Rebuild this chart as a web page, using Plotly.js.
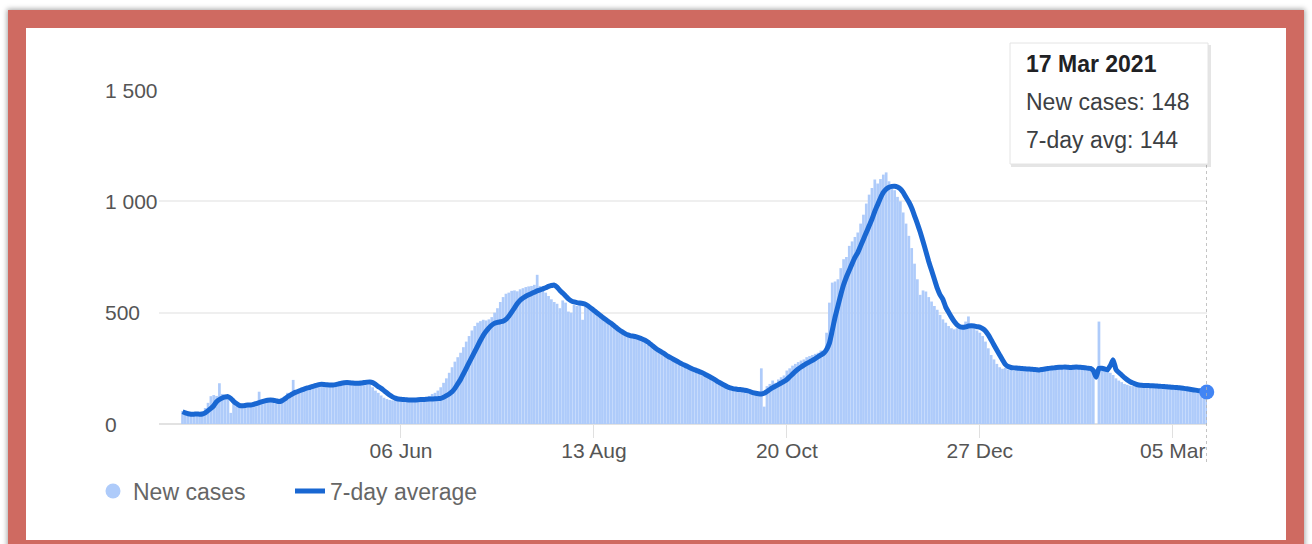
<!DOCTYPE html>
<html><head><meta charset="utf-8">
<script src="https://cdn.plot.ly/plotly-3.0.1.min.js"></script>
<style>
html,body{margin:0;padding:0;width:1312px;height:544px;overflow:hidden;background:#fff;}
#frame{position:absolute;left:8px;top:10px;width:1296px;height:548px;box-sizing:border-box;border:18px solid #cf6a61;background:#fff;box-shadow:0 0 5px 1px rgba(0,0,0,0.35);}
#chart{position:absolute;left:0;top:0;width:1312px;height:544px;}
</style></head><body>
<div id="frame"></div>
<div id="chart"></div>
<script>
const startDate = '2020-03-21';

const newCases = [
58,42,38,45,48,40,46,55,72,95,
125,130,126,183,135,110,118,50,92,80,
78,84,88,80,92,95,100,145,104,96,
110,112,100,98,108,118,125,140,135,198,
150,155,160,162,168,172,170,180,182,176,
175,178,172,180,182,186,185,188,184,186,
182,185,188,186,190,192,178,165,150,140,
128,118,112,108,106,110,108,112,106,110,
104,110,112,108,114,116,120,126,135,140,
150,165,185,205,230,255,280,300,320,345,
370,395,420,440,455,462,468,465,470,480,
500,520,548,570,585,590,598,600,596,605,
610,615,618,620,625,670,620,610,590,575,
560,548,540,520,555,545,505,500,535,530,
540,468,535,525,515,505,496,486,476,466,
456,447,437,428,418,410,402,396,392,388,
386,380,374,366,356,346,336,328,320,312,
305,297,290,283,276,270,263,257,251,245,
240,235,230,224,217,210,202,194,186,180,
172,166,160,157,155,153,152,150,148,146,
135,132,136,134,250,78,170,180,195,185,
200,210,218,240,250,262,270,278,285,290,
300,305,310,315,320,330,330,410,545,635,
640,650,700,740,750,800,820,840,860,900,
940,990,1030,1060,1098,1080,1100,1120,1130,1090,
1075,1050,1020,1000,950,900,845,790,720,650,
580,600,595,570,550,530,513,490,470,455,
440,430,425,430,440,445,460,483,450,430,
420,410,395,370,340,310,290,270,255,248,
252,245,248,240,252,245,238,250,242,240,
248,252,245,250,255,252,258,250,256,260,
252,258,250,256,262,250,254,258,248,245,
250,244,0,460,245,240,236,230,220,205,
195,188,180,176,172,170,175,172,168,174,
170,165,172,168,166,170,164,160,166,162,
158,164,160,155,150,156,152,148,150,145,
142,148
];

const avg7 = [
55,50,46,44,44,45,44,45,50,60,
70,82,100,110,117,121,123,115,102,92,
84,82,83,85,85,88,92,96,100,104,
107,108,107,104,101,104,112,122,130,137,
143,148,153,158,162,165,169,173,177,178,
177,176,175,175,177,180,183,185,186,185,
184,183,183,184,186,188,189,186,178,168,
160,150,140,130,122,116,112,111,110,109,
108,108,108,109,110,110,111,112,112,113,
114,115,120,127,135,145,160,180,200,225,
250,276,300,325,350,375,398,416,432,444,
452,456,459,462,470,484,502,522,541,556,
566,574,580,586,592,598,602,607,612,618,
622,624,615,600,588,575,562,553,548,545,
543,541,538,530,520,510,500,490,480,470,
461,452,442,432,422,414,406,400,396,394,
391,387,382,376,368,358,348,338,330,322,
314,305,298,291,284,277,270,264,258,252,
246,241,236,231,225,218,211,204,196,188,
181,174,167,162,159,157,155,154,152,150,
146,141,138,136,135,138,146,155,163,170,
177,184,191,200,212,224,236,247,256,264,
272,279,286,293,302,310,318,335,363,420,
480,530,580,625,660,690,720,748,770,800,
830,860,890,920,955,985,1015,1040,1055,1063,
1067,1068,1064,1056,1040,1018,997,970,935,900,
862,820,775,730,690,650,610,580,560,525,
502,480,460,445,437,434,436,440,441,440,
437,435,428,418,400,378,355,332,310,288,
268,258,254,252,251,250,249,248,247,246,
245,244,243,245,247,249,251,252,254,255,
255,256,255,254,255,256,255,254,253,251,
250,240,210,250,250,247,243,262,288,245,
231,220,208,198,190,184,179,175,174,173,
173,172,172,171,170,169,168,167,166,165,
164,163,162,160,158,156,154,152,150,148,
146,144
];

const xTickVals = ['2020-06-06','2020-08-13','2020-10-20','2020-12-27','2021-03-05'];
const xTickText = ['06 Jun','13 Aug','20 Oct','27 Dec','05 Mar'];
const yTickVals = [0, 500, 1000, 1500];
const yTickText = ['0', '500', '1 000', '1 500'];
const seriesNames = ['New cases', '7-day average'];
const tooltipTitle = '17 Mar 2021';
const tooltipLabels = ['New cases: ', '7-day avg: '];

const dates = newCases.map((_, i) => {
  const d = new Date(startDate + 'T00:00:00Z');
  d.setUTCDate(d.getUTCDate() + i);
  return d.toISOString().slice(0, 10);
});
const n = dates.length;
const lastDate = dates[n - 1];

const FONT = 'Arial, "Liberation Sans", sans-serif';
const barColor = '#aecbfa';
const lineColor = '#1967d2';

const traces = [
  {type: 'bar', x: dates, y: newCases, marker: {color: barColor, line: {width: 0}},
   showlegend: false, hoverinfo: 'skip'},
  {type: 'scatter', mode: 'markers', x: [null], y: [null], name: seriesNames[0],
   marker: {symbol: 'circle', size: 15, color: barColor}},
  {type: 'scatter', mode: 'lines', x: dates, y: avg7, name: seriesNames[1],
   line: {color: lineColor, width: 5, shape: 'spline', smoothing: 0.5, simplify: false}, hoverinfo: 'skip'},
  {type: 'scatter', mode: 'markers', x: [lastDate], y: [avg7[n - 1]], showlegend: false,
   marker: {size: 15, color: '#4285f4'}, cliponaxis: false, hoverinfo: 'skip'}
];

const L = 159, R = 105, T = 90, B = 120;
const plotH = 544 - T - B, plotW = 1312 - L - R;
const px2xp = (px) => (px - L) / plotW;
const px2yp = (py) => (544 - B - py) / plotH;

const annotations = yTickVals.map((v, i) => ({
  xref: 'paper', yref: 'y', x: px2xp(103), y: v, xanchor: 'left', yanchor: 'middle',
  text: yTickText[i], showarrow: false, font: {family: FONT, size: 21, color: '#555'}
}));
annotations.push(
  {xref: 'paper', yref: 'paper', x: px2xp(1024), y: px2yp(64), xanchor: 'left', yanchor: 'middle',
   text: '<b>' + tooltipTitle + '</b>', showarrow: false, font: {family: FONT, size: 23, color: '#202124'}},
  {xref: 'paper', yref: 'paper', x: px2xp(1024), y: px2yp(102), xanchor: 'left', yanchor: 'middle',
   text: tooltipLabels[0] + newCases[n - 1], showarrow: false, font: {family: FONT, size: 23, color: '#3c4043'}},
  {xref: 'paper', yref: 'paper', x: px2xp(1024), y: px2yp(140), xanchor: 'left', yanchor: 'middle',
   text: tooltipLabels[1] + avg7[n - 1], showarrow: false, font: {family: FONT, size: 23, color: '#3c4043'}}
);

const shapes = [
  {type: 'line', xref: 'x', yref: 'paper', x0: lastDate, x1: lastDate, y0: px2yp(462), y1: px2yp(164),
   line: {color: '#b0b0b0', width: 1, dash: 'dot'}, layer: 'above'},
  {type: 'rect', xref: 'paper', yref: 'paper', x0: px2xp(1011), x1: px2xp(1211), y0: px2yp(167), y1: px2yp(45),
   fillcolor: 'rgba(0,0,0,0.10)', line: {width: 0}, layer: 'above'},
  {type: 'rect', xref: 'paper', yref: 'paper', x0: px2xp(1010), x1: px2xp(1208), y0: px2yp(164), y1: px2yp(43),
   fillcolor: '#ffffff', line: {color: '#e4e4e4', width: 1}, layer: 'above'}
];

const layout = {
  width: 1312, height: 544,
  margin: {l: L, r: R, t: T, b: B, pad: 0},
  paper_bgcolor: 'rgba(0,0,0,0)', plot_bgcolor: 'rgba(0,0,0,0)',
  font: {family: FONT, color: '#555'},
  bargap: 0.04,
  hovermode: false,
  xaxis: {
    type: 'date', range: ['2020-03-12 17:00', '2021-03-17 02:00'],
    tickmode: 'array', tickvals: xTickVals, ticktext: xTickText,
    ticks: 'outside', ticklen: 13, tickcolor: '#e0e0e0', tickwidth: 1,
    ticklabelstandoff: -5,
    showgrid: false, showline: false, zeroline: false,
    tickfont: {family: FONT, size: 21, color: '#555'}, fixedrange: true
  },
  yaxis: {
    range: [0, 1500], tickmode: 'array', tickvals: yTickVals, showticklabels: false,
    showgrid: true, gridcolor: '#efefef', gridwidth: 2,
    zeroline: true, zerolinecolor: '#e2e2e2', zerolinewidth: 2, showline: false, ticks: '',
    fixedrange: true
  },
  showlegend: true,
  legend: {orientation: 'h', x: px2xp(93), xanchor: 'left', y: px2yp(491), yanchor: 'middle',
    font: {family: FONT, size: 23, color: '#666'}, bgcolor: 'rgba(0,0,0,0)', itemwidth: 30,
    entrywidth: 152},
  annotations: annotations,
  shapes: shapes
};

Plotly.newPlot('chart', traces, layout, {displayModeBar: false, staticPlot: true});
</script>
</body></html>
